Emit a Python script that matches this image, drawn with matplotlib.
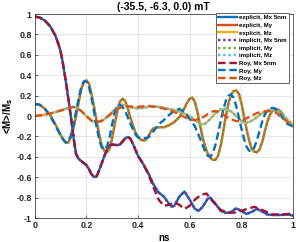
import numpy as np
import matplotlib
matplotlib.use('Agg')
from matplotlib import pyplot as plt

# time axis (ns) and magnetisation components
t_mx = [0.00, 0.02, 0.04, 0.06, 0.08, 0.09, 0.10, 0.11, 0.12, 0.13, 0.14, 0.15, 0.16, 0.17,
        0.18, 0.19, 0.20, 0.21, 0.22, 0.23, 0.24, 0.25, 0.26, 0.27, 0.28, 0.29, 0.30, 0.32,
        0.33, 0.34, 0.35, 0.36, 0.37, 0.38, 0.39, 0.40, 0.42, 0.44, 0.46, 0.48, 0.50, 0.52,
        0.53, 0.54, 0.56, 0.58, 0.60, 0.62, 0.635, 0.65, 0.67, 0.68, 0.70, 0.72, 0.74, 0.76,
        0.78, 0.80, 0.82, 0.84, 0.86, 0.88, 0.90, 0.92, 0.95, 0.98, 1.00]
mx = [0.975, 0.965, 0.935, 0.88, 0.79, 0.72, 0.64, 0.51, 0.35, 0.18, 0.0, -0.2, -0.37, -0.42,
      -0.44, -0.46, -0.48, -0.52, -0.57, -0.60, -0.59, -0.53, -0.46, -0.39, -0.33, -0.29, -0.28, -0.285,
      -0.28, -0.25, -0.22, -0.205, -0.22, -0.27, -0.33, -0.39, -0.47, -0.56, -0.67, -0.75, -0.79, -0.86,
      -0.89, -0.88, -0.79, -0.74, -0.82, -0.91, -0.93, -0.89, -0.81, -0.80, -0.86, -0.93, -0.95, -0.94,
      -0.905, -0.93, -0.96, -0.94, -0.91, -0.935, -0.965, -0.97, -0.97, -0.965, -0.975]

t_roy_mx = [0.00, 0.02, 0.04, 0.06, 0.08, 0.09, 0.10, 0.11, 0.12, 0.13, 0.14, 0.15, 0.16, 0.17,
            0.18, 0.19, 0.20, 0.21, 0.22, 0.23, 0.24, 0.25, 0.26, 0.27, 0.28, 0.29, 0.30, 0.32,
            0.33, 0.34, 0.35, 0.36, 0.37, 0.38, 0.39, 0.40, 0.42, 0.44, 0.46, 0.48, 0.50, 0.52,
            0.54, 0.56, 0.58, 0.60, 0.62, 0.645, 0.665, 0.69, 0.72, 0.75, 0.78, 0.81, 0.85, 0.88,
            0.92, 0.96, 1.00]
roy_mx = [0.975, 0.965, 0.935, 0.88, 0.79, 0.72, 0.64, 0.51, 0.35, 0.18, 0.0, -0.2, -0.37, -0.42,
          -0.44, -0.46, -0.48, -0.52, -0.57, -0.60, -0.59, -0.53, -0.46, -0.39, -0.33, -0.29, -0.28, -0.285,
          -0.28, -0.25, -0.22, -0.205, -0.22, -0.27, -0.33, -0.39, -0.47, -0.57, -0.70, -0.82, -0.88, -0.87,
          -0.85, -0.87, -0.91, -0.88, -0.82, -0.77, -0.76, -0.84, -0.92, -0.95, -0.945, -0.92, -0.89, -0.92,
          -0.965, -0.965, -0.955]

t_my = [0.00, 0.02, 0.04, 0.06, 0.08, 0.10, 0.11, 0.12, 0.13, 0.14, 0.15, 0.16, 0.17, 0.18,
        0.19, 0.20, 0.21, 0.22, 0.23, 0.24, 0.25, 0.26, 0.27, 0.28, 0.29, 0.30, 0.31, 0.32,
        0.33, 0.34, 0.35, 0.36, 0.37, 0.38, 0.39, 0.40, 0.41, 0.42, 0.43, 0.44, 0.45, 0.46,
        0.48, 0.50, 0.52, 0.54, 0.56, 0.58, 0.59, 0.60, 0.61, 0.62, 0.63, 0.64, 0.65, 0.66,
        0.67, 0.68, 0.69, 0.70, 0.71, 0.72, 0.73, 0.74, 0.75, 0.76, 0.77, 0.78, 0.79, 0.80,
        0.81, 0.82, 0.83, 0.84, 0.85, 0.86, 0.87, 0.88, 0.89, 0.90, 0.91, 0.92, 0.93, 0.94,
        0.95, 0.96, 0.97, 0.98, 0.99, 1.00]
my = [0.12, 0.11, 0.07, 0.01, -0.08, -0.18, -0.23, -0.26, -0.26, -0.21, -0.12, 0.0, 0.13, 0.26,
      0.33, 0.35, 0.32, 0.22, 0.09, -0.05, -0.19, -0.29, -0.34, -0.355, -0.32, -0.22, -0.08, 0.05,
      0.14, 0.17, 0.15, 0.08, -0.01, -0.09, -0.16, -0.20, -0.23, -0.24, -0.235, -0.20, -0.15, -0.12,
      -0.11, -0.11, -0.09, -0.06, -0.01, 0.08, 0.13, 0.17, 0.18, 0.14, 0.04, -0.09, -0.21, -0.30,
      -0.37, -0.41, -0.43, -0.43, -0.39, -0.29, -0.15, 0.0, 0.12, 0.21, 0.245, 0.25, 0.22, 0.13,
      0.0, -0.13, -0.24, -0.32, -0.35, -0.355, -0.33, -0.26, -0.16, -0.06, 0.01, 0.05, 0.066, 0.066,
      0.05, 0.02, -0.02, -0.06, -0.09, -0.10]

t_roy_my = [0.00, 0.02, 0.04, 0.06, 0.08, 0.10, 0.12, 0.13, 0.14, 0.15, 0.16, 0.17, 0.18, 0.19,
            0.20, 0.21, 0.22, 0.23, 0.24, 0.25, 0.26, 0.27, 0.28, 0.29, 0.30, 0.31, 0.32, 0.33,
            0.34, 0.35, 0.36, 0.37, 0.38, 0.39, 0.40, 0.42, 0.44, 0.46, 0.48, 0.50, 0.52, 0.54,
            0.56, 0.58, 0.60, 0.62, 0.64, 0.66, 0.67, 0.68, 0.69, 0.70, 0.71, 0.72, 0.73, 0.74,
            0.75, 0.76, 0.77, 0.78, 0.79, 0.80, 0.81, 0.82, 0.83, 0.84, 0.85, 0.86, 0.87, 0.88,
            0.89, 0.90, 0.91, 0.92, 0.93, 0.94, 0.95, 0.96, 0.97, 0.98, 1.00]
roy_my = [0.12, 0.11, 0.07, 0.0, -0.09, -0.19, -0.26, -0.25, -0.19, -0.09, 0.04, 0.17, 0.28, 0.34,
          0.34, 0.29, 0.18, 0.04, -0.11, -0.23, -0.31, -0.33, -0.30, -0.21, -0.08, 0.04, 0.10, 0.11,
          0.09, 0.05, -0.01, -0.07, -0.13, -0.18, -0.21, -0.22, -0.21, -0.15, -0.08, -0.04, 0.01, 0.05,
          0.07, 0.04, -0.03, -0.10, -0.22, -0.35, -0.39, -0.40, -0.36, -0.28, -0.17, -0.05, 0.06, 0.15,
          0.20, 0.21, 0.18, 0.10, -0.01, -0.12, -0.22, -0.30, -0.34, -0.345, -0.31, -0.24, -0.15, -0.06,
          0.01, 0.05, 0.075, 0.08, 0.075, 0.05, 0.02, -0.02, -0.05, -0.08, -0.10]

t_mz = [0.00, 0.03, 0.06, 0.09, 0.12, 0.14, 0.15, 0.16, 0.18, 0.20, 0.22, 0.24, 0.26, 0.28,
        0.30, 0.32, 0.34, 0.36, 0.38, 0.40, 0.42, 0.44, 0.46, 0.48, 0.50, 0.52, 0.54, 0.56,
        0.58, 0.60, 0.62, 0.64, 0.65, 0.66, 0.68, 0.70, 0.72, 0.74, 0.76, 0.78, 0.80, 0.815,
        0.83, 0.85, 0.87, 0.90, 0.92, 0.94, 0.96, 0.98, 1.00]
mz = [0.0, 0.01, 0.025, 0.045, 0.07, 0.085, 0.09, 0.085, 0.05, 0.0, -0.045, -0.065, -0.05, -0.01,
      0.04, 0.09, 0.11, 0.10, 0.08, 0.075, 0.08, 0.09, 0.095, 0.09, 0.08, 0.07, 0.06, 0.045,
      0.025, 0.0, -0.04, -0.075, -0.08, -0.075, -0.03, 0.03, 0.065, 0.07, 0.045, 0.0, -0.05, -0.066,
      -0.06, -0.03, 0.01, 0.055, 0.066, 0.05, 0.01, -0.04, -0.08]

t_roy_mz = [0.00, 0.03, 0.06, 0.09, 0.12, 0.15, 0.16, 0.18, 0.20, 0.22, 0.24, 0.26, 0.28, 0.30,
            0.32, 0.34, 0.36, 0.40, 0.44, 0.48, 0.52, 0.55, 0.58, 0.60, 0.62, 0.64, 0.66, 0.68,
            0.70, 0.72, 0.75, 0.78, 0.80, 0.83, 0.86, 0.90, 0.93, 0.96, 1.00]
roy_mz = [0.0, 0.01, 0.025, 0.045, 0.07, 0.09, 0.085, 0.05, 0.0, -0.045, -0.06, -0.045, -0.01, 0.03,
          0.07, 0.09, 0.095, 0.09, 0.10, 0.085, 0.06, 0.03, -0.01, -0.035, -0.04, -0.025, 0.0, 0.04,
          0.05, 0.03, -0.02, -0.05, -0.05, -0.01, 0.03, 0.05, 0.04, -0.02, -0.10]

xticks = [0, 0.2, 0.4, 0.6, 0.8, 1]
xticklabels = ['0', '0.2', '0.4', '0.6', '0.8', '1']
yticks = [-1, -0.8, -0.6, -0.4, -0.2, 0, 0.2, 0.4, 0.6, 0.8, 1]
yticklabels = ['-1', '-0.8', '-0.6', '-0.4', '-0.2', '0', '0.2', '0.4', '0.6', '0.8', '1']

# matlab default colours
c_blue = '#0072BD'
c_orange = '#D95319'
c_yellow = '#EDB120'
c_purple = '#7E2F8E'
c_green = '#77AC30'
c_lblue = '#4DBEEE'
c_red = '#A2142F'

plt.rcParams['font.family'] = ['Liberation Sans', 'DejaVu Sans']
plt.rcParams['font.weight'] = 'bold'

fig = plt.figure(figsize=(2.96, 2.42), dpi=100)
ax = fig.add_axes([0.117, 0.099, 0.873, 0.843])

lw = 1.7
dot = (0, (1, 1.2))
dash = (0, (3.2, 1.6))
ax.plot(t_mx, mx, color=c_blue, lw=lw, label='explicit, Mx 5nm')
ax.plot(t_my, my, color=c_orange, lw=lw, label='explicit, My')
ax.plot(t_mz, mz, color=c_yellow, lw=lw, label='explicit, Mz')
ax.plot(t_mx, mx, color=c_purple, lw=lw, ls=dot, label='implicit, Mx 5nm')
ax.plot(t_my, my, color=c_green, lw=lw, ls=dot, label='implicit, My')
ax.plot(t_mz, mz, color=c_lblue, lw=lw, ls=dot, label='implicit, Mz')
ax.plot(t_roy_mx, roy_mx, color=c_red, lw=lw, ls=dash, label='Roy, Mx 5nm')
ax.plot(t_roy_my, roy_my, color=c_blue, lw=lw, ls=dash, label='Roy, My')
ax.plot(t_roy_mz, roy_mz, color=c_orange, lw=lw, ls=dash, label='Roy, Mz')

ax.set_xlim(0, 1)
ax.set_ylim(-1, 1)
ax.set_xticks(xticks)
ax.set_xticklabels(xticklabels)
ax.set_yticks(yticks)
ax.set_yticklabels(yticklabels)
ax.tick_params(labelsize=6.4, direction='in', length=2, width=0.5, colors='#262626', pad=2)
ax.grid(True, color='#e3e3e3', lw=0.6)
ax.set_axisbelow(True)
for s in ax.spines.values():
    s.set_color('#262626')
    s.set_linewidth(0.5)

ax.set_title('(-35.5, -6.3, 0.0) mT', fontsize=7.5, fontweight='bold', pad=3)
ax.set_xlabel('ns', fontsize=7, fontweight='bold', labelpad=2)
ax.set_ylabel('<M>/M$_\\mathbf{s}$', fontsize=7, fontweight='bold', labelpad=1)

leg = ax.legend(loc='upper right', bbox_to_anchor=(0.983, 1.005), fontsize=4.4,
                handlelength=3.1, handletextpad=0.3, labelspacing=0.38, borderpad=0.35,
                borderaxespad=0, fancybox=False, framealpha=1, edgecolor='#262626')
leg.get_frame().set_linewidth(0.5)

fig.savefig('out.png', dpi=100)
